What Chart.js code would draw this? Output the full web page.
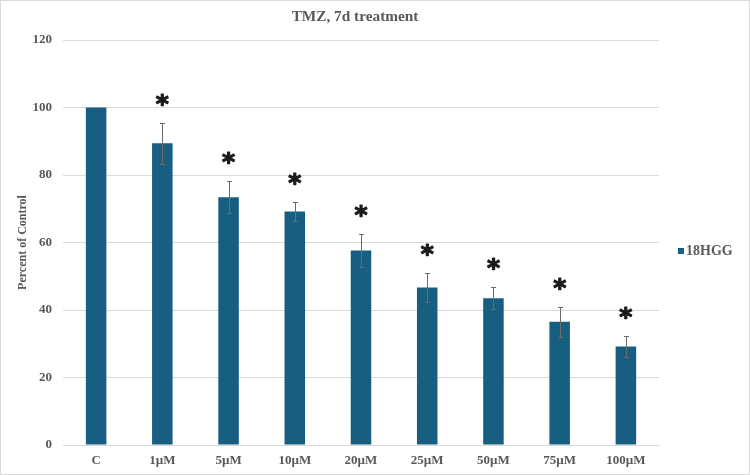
<!DOCTYPE html>
<html>
<head>
<meta charset="utf-8">
<script src="https://cdn.jsdelivr.net/npm/chart.js@4/dist/chart.umd.min.js"></script>
<style>
  html, body { margin: 0; padding: 0; background: #ffffff; }
  #wrap { width: 750px; height: 475px; position: relative; }
</style>
</head>
<body>
<div id="wrap"><canvas id="c" width="750" height="475"></canvas></div>
<script>
const chartTitle = 'TMZ, 7d treatment';
const seriesName = '18HGG';
const yAxisTitle = 'Percent of Control';
const categories = ['C', '1µM', '5µM', '10µM', '20µM', '25µM', '50µM', '75µM', '100µM'];
const values = [100, 89.4, 73.4, 69.2, 57.6, 46.7, 43.5, 36.5, 29.2];
const errors = [0, 6.1, 4.7, 2.7, 4.8, 4.3, 3.3, 4.4, 3.2];
const significant = [false, true, true, true, true, true, true, true, true];
const yMin = 0, yMax = 120, yStep = 20;

const BAR = '#175E81';
const TEXT = '#595959';
const GRID = '#D9D9D9';
const SERIF = "'Liberation Serif', 'Times New Roman', serif";

const extrasPlugin = {
  id: 'extras',
  beforeDraw(chart) {
    const ctx = chart.ctx;
    ctx.save();
    ctx.fillStyle = '#ffffff';
    ctx.fillRect(0, 0, chart.width, chart.height);
    ctx.restore();
  },
  afterDatasetsDraw(chart) {
    const ctx = chart.ctx;
    const meta = chart.getDatasetMeta(0);
    const y = chart.scales.y;
    ctx.save();
    // error bars
    ctx.strokeStyle = '#6B6B6B';
    ctx.lineWidth = 1;
    meta.data.forEach((bar, i) => {
      const e = errors[i];
      if (!e) return;
      const x = Math.round(bar.x) + 0.5;
      const yt = Math.round(y.getPixelForValue(values[i] + e)) + 0.5;
      const yb = Math.round(y.getPixelForValue(values[i] - e)) + 0.5;
      ctx.beginPath();
      ctx.moveTo(x, yt); ctx.lineTo(x, yb);
      ctx.moveTo(x - 2.5, yt); ctx.lineTo(x + 2.5, yt);
      ctx.moveTo(x - 2.5, yb); ctx.lineTo(x + 2.5, yb);
      ctx.stroke();
    });
    // significance asterisks
    ctx.fillStyle = '#1a1a1a';
    ctx.strokeStyle = '#1a1a1a';
    ctx.lineWidth = 1.2;
    ctx.lineJoin = 'round';
    ctx.font = "bold 25px 'DejaVu Sans', sans-serif";
    ctx.textAlign = 'center';
    ctx.textBaseline = 'alphabetic';
    const m = ctx.measureText('*');
    const glyphMid = (m.actualBoundingBoxAscent - m.actualBoundingBoxDescent) / 2;
    meta.data.forEach((bar, i) => {
      if (!significant[i]) return;
      const cy = y.getPixelForValue(values[i] + errors[i]) - 23;
      ctx.fillText('*', bar.x, cy + glyphMid);
      ctx.strokeText('*', bar.x, cy + glyphMid);
    });
    ctx.restore();
  },
  afterDraw(chart) {
    const ctx = chart.ctx;
    ctx.save();
    // title
    ctx.fillStyle = TEXT;
    ctx.font = 'bold 15.3px ' + SERIF;
    ctx.textAlign = 'center';
    ctx.textBaseline = 'middle';
    ctx.fillText(chartTitle, 355, 17);
    // legend
    ctx.fillStyle = BAR;
    ctx.fillRect(678, 248, 6, 6);
    ctx.fillStyle = TEXT;
    ctx.font = 'bold 14px ' + SERIF;
    ctx.textAlign = 'left';
    ctx.fillText(seriesName, 686, 251.5);
    // frame
    ctx.strokeStyle = GRID;
    ctx.lineWidth = 1;
    ctx.strokeRect(0.5, 0.5, chart.width - 1, chart.height - 1);
    ctx.restore();
  }
};

new Chart(document.getElementById('c'), {
  type: 'bar',
  data: {
    labels: categories,
    datasets: [{
      label: seriesName,
      data: values,
      backgroundColor: BAR,
      borderWidth: 0,
      barPercentage: 0.31,
      categoryPercentage: 1.0
    }]
  },
  options: {
    responsive: false,
    animation: false,
    devicePixelRatio: 1,
    layout: { padding: { left: 12, right: 91, top: 40, bottom: 0 } },
    plugins: {
      legend: { display: false },
      title: { display: false },
      tooltip: { enabled: false }
    },
    scales: {
      x: {
        grid: { display: false, drawTicks: false },
        border: { display: true, color: GRID, width: 1 },
        ticks: {
          color: TEXT,
          font: { family: SERIF, size: 13, weight: 'bold' },
          padding: 8,
          maxRotation: 0,
          autoSkip: false
        },
        afterFit(scale) { scale.height = 30; }
      },
      y: {
        min: yMin,
        max: yMax,
        grid: { color: GRID, lineWidth: 1, drawTicks: false },
        border: { display: false },
        ticks: {
          stepSize: yStep,
          color: TEXT,
          font: { family: SERIF, size: 13, weight: 'bold' },
          padding: 11
        },
        title: {
          display: true,
          text: yAxisTitle,
          color: TEXT,
          font: { family: SERIF, size: 12, weight: 'bold' },
          padding: { top: 4, bottom: 0 }
        },
        afterFit(scale) { scale.width = 51; }
      }
    }
  },
  plugins: [extrasPlugin]
});
</script>
</body>
</html>
